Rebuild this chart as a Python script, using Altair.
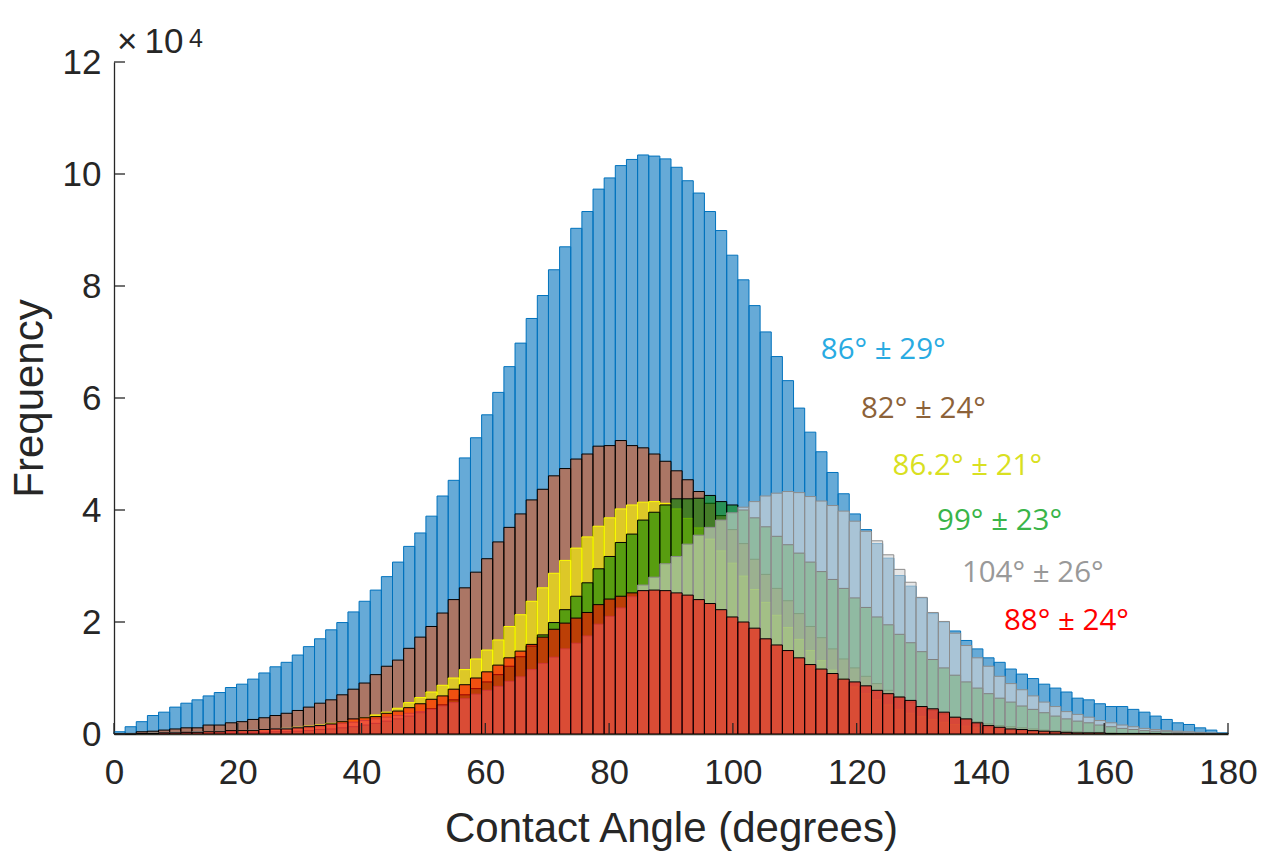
import altair as alt
import pandas as pd

# ---------------- data (frequencies in units of 10^4, 100 bins of 1.8 deg) ----------------
BIN_WIDTH = 1.8

blue = [0.04,0.13,0.22,0.33,0.39,0.48,0.55,0.61,0.68,0.74,
        0.83,0.89,0.98,1.09,1.20,1.28,1.41,1.56,1.70,1.86,
        1.99,2.18,2.37,2.57,2.81,3.07,3.35,3.59,3.89,4.25,
        4.53,4.93,5.29,5.70,6.10,6.56,6.98,7.42,7.83,8.29,
        8.70,9.03,9.33,9.73,9.93,10.15,10.26,10.34,10.32,10.27,
        10.12,9.88,9.66,9.33,8.99,8.55,8.11,7.65,7.18,6.74,
        6.31,5.82,5.39,5.04,4.67,4.29,3.93,3.65,3.40,3.14,
        2.83,2.64,2.43,2.15,2.00,1.84,1.67,1.52,1.36,1.28,
        1.16,1.07,0.99,0.89,0.82,0.75,0.64,0.61,0.54,0.49,
        0.49,0.44,0.39,0.32,0.26,0.20,0.17,0.11,0.07,0.02]

brown = [0.00,0.01,0.04,0.05,0.07,0.09,0.11,0.11,0.16,0.16,
         0.20,0.22,0.26,0.29,0.33,0.37,0.42,0.48,0.55,0.61,
         0.70,0.80,0.91,1.06,1.21,1.32,1.53,1.73,1.92,2.16,
         2.40,2.61,2.89,3.13,3.43,3.69,3.93,4.18,4.37,4.61,
         4.74,4.91,5.00,5.14,5.15,5.24,5.15,5.11,5.00,4.87,
         4.70,4.54,4.33,4.12,3.90,3.65,3.40,3.12,2.85,2.60,
         2.38,2.15,1.92,1.72,1.52,1.34,1.18,1.03,0.90,0.78,
         0.67,0.57,0.49,0.42,0.36,0.30,0.26,0.22,0.18,0.15,
         0.13,0.11,0.09,0.07,0.06,0.05,0.04,0.03,0.03,0.02,
         0.01,0.01,0.01,0.01,0.01,0.01,0.00,0.00,0.00,0.00]

yellow = [0.00,0.00,0.00,0.01,0.01,0.01,0.02,0.02,0.03,0.03,
          0.04,0.05,0.06,0.07,0.08,0.10,0.12,0.14,0.16,0.19,
          0.22,0.25,0.29,0.34,0.39,0.46,0.56,0.65,0.75,0.87,
          1.00,1.15,1.34,1.50,1.68,1.92,2.13,2.37,2.61,2.87,
          3.10,3.32,3.52,3.71,3.86,4.02,4.09,4.14,4.15,4.12,
          4.02,3.85,3.68,3.48,3.27,3.05,2.82,2.58,2.35,2.12,
          1.90,1.69,1.49,1.31,1.14,0.98,0.84,0.72,0.61,0.52,
          0.44,0.37,0.31,0.26,0.21,0.17,0.14,0.11,0.09,0.07,
          0.05,0.04,0.03,0.02,0.02,0.01,0.01,0.01,0.01,0.01,
          0.00,0.00,0.00,0.00,0.00,0.00,0.00,0.00,0.00,0.00]

green = [0.00,0.00,0.00,0.00,0.00,0.01,0.01,0.01,0.01,0.02,
         0.02,0.02,0.03,0.03,0.04,0.04,0.05,0.06,0.08,0.09,
         0.11,0.13,0.16,0.19,0.23,0.27,0.32,0.38,0.45,0.52,
         0.61,0.70,0.81,0.93,1.06,1.21,1.38,1.57,1.77,1.99,
         2.22,2.46,2.70,2.95,3.17,3.42,3.57,3.82,3.96,4.09,
         4.20,4.20,4.21,4.26,4.15,4.09,4.00,3.86,3.70,3.53,
         3.38,3.23,3.07,2.90,2.76,2.60,2.43,2.26,2.09,1.95,
         1.78,1.63,1.47,1.33,1.18,1.05,0.93,0.82,0.72,0.64,
         0.57,0.50,0.44,0.38,0.32,0.27,0.23,0.20,0.16,0.13,
         0.10,0.08,0.06,0.05,0.04,0.03,0.02,0.02,0.01,0.01]

gray = [0.00,0.01,0.01,0.02,0.02,0.03,0.03,0.04,0.04,0.05,
        0.05,0.06,0.07,0.08,0.09,0.10,0.11,0.13,0.15,0.17,
        0.19,0.21,0.24,0.27,0.30,0.33,0.37,0.40,0.44,0.50,
        0.56,0.63,0.71,0.78,0.85,0.94,1.02,1.15,1.26,1.37,
        1.52,1.62,1.75,1.96,2.10,2.25,2.45,2.66,2.80,3.04,
        3.17,3.39,3.55,3.69,3.82,3.95,4.05,4.15,4.25,4.30,
        4.33,4.31,4.24,4.16,4.08,3.98,3.80,3.62,3.45,3.20,
        2.94,2.71,2.44,2.17,2.01,1.80,1.58,1.36,1.21,1.03,
        0.90,0.79,0.68,0.57,0.49,0.40,0.35,0.30,0.24,0.20,
        0.16,0.13,0.10,0.08,0.06,0.05,0.04,0.03,0.02,0.01]

red = [0.00,0.00,0.01,0.01,0.02,0.02,0.03,0.03,0.04,0.04,
       0.06,0.06,0.06,0.08,0.09,0.09,0.11,0.13,0.15,0.18,
       0.22,0.27,0.29,0.31,0.37,0.41,0.47,0.54,0.62,0.68,
       0.80,0.88,1.00,1.11,1.23,1.36,1.48,1.60,1.73,1.87,
       1.98,2.07,2.17,2.31,2.41,2.46,2.52,2.56,2.57,2.56,
       2.52,2.48,2.40,2.33,2.22,2.09,2.00,1.89,1.70,1.59,
       1.49,1.36,1.24,1.16,1.08,0.98,0.93,0.86,0.78,0.72,
       0.66,0.60,0.49,0.45,0.39,0.30,0.27,0.20,0.15,0.12,
       0.09,0.08,0.06,0.05,0.04,0.03,0.02,0.02,0.02,0.01,
       0.01,0.01,0.01,0.01,0.00,0.00,0.00,0.00,0.00,0.00]

x_ticks = [0, 20, 40, 60, 80, 100, 120, 140, 160, 180]
y_ticks = [0, 2, 4, 6, 8, 10, 12]

labels = ["86° ± 29°", "82° ± 24°", "86.2° ± 21°", "99° ± 23°", "104° ± 26°", "88° ± 24°"]
label_x = [114.2, 120.7, 125.8, 133.0, 137.0, 143.8]
label_y = [6.85, 5.81, 4.78, 3.80, 2.88, 2.02]
label_colors = ["#29ABE2", "#8C6239", "#D9E021", "#39B54A", "#999999", "#FF0000"]

# draw order, face colour, edge colour
series = [
    (blue, "#0072BD", "#0072BD"),
    (brown, "#D95319", "#000000"),
    (yellow, "#FFFF00", "#FFFF00"),
    (green, "#008000", "#000000"),
    (gray, "#D5D5D5", "#8C8C8C"),
    (red, "#FF0000", "#000000"),
]

# ---------------- chart ----------------
W, H = 1114, 672
AXC = "#262626"
xscale = alt.Scale(domain=[0, 180], nice=False, zero=False)
yscale = alt.Scale(domain=[0, 12], nice=False)

xaxis = alt.Axis(values=x_ticks, title="Contact Angle (degrees)", ticks=False, grid=False,
                 labelPadding=21, labelFlush=False, labelOverlap=False,
                 titleX=W / 2, titleY=107, titleBaseline="alphabetic", titleAlign="center")
yaxis = alt.Axis(values=y_ticks, title="Frequency", ticks=False, grid=False,
                 labelPadding=13, labelFlush=False, labelOverlap=False,
                 titleX=-72, titleY=H / 2, titleAngle=270, titleBaseline="alphabetic",
                 titleAlign="center")

layers = []
for vals, fill, edge in series:
    df = pd.DataFrame({
        "start": [i * BIN_WIDTH for i in range(len(vals))],
        "end": [(i + 1) * BIN_WIDTH for i in range(len(vals))],
        "value": vals,
    })
    layers.append(
        alt.Chart(df).mark_rect(fill=fill, fillOpacity=0.6, stroke=edge,
                                strokeWidth=1, strokeOpacity=1).encode(
            x=alt.X("start:Q", scale=xscale, axis=xaxis),
            x2="end:Q",
            y=alt.Y("value:Q", scale=yscale, axis=yaxis),
            y2=alt.datum(0),
        )
    )

# inward ticks (MATLAB style)
ytick_layer = alt.Chart(pd.DataFrame({"v": y_ticks})).mark_rule(color=AXC, strokeWidth=1.3).encode(
    y=alt.Y("v:Q", scale=yscale, axis=yaxis), x=alt.value(0), x2=alt.value(11))
xtick_layer = alt.Chart(pd.DataFrame({"v": x_ticks})).mark_rule(color=AXC, strokeWidth=1.3).encode(
    x=alt.X("v:Q", scale=xscale, axis=xaxis), y=alt.value(H), y2=alt.value(H - 11))

label_df = pd.DataFrame({"label": labels, "lx": label_x, "ly": label_y})
text_layer = alt.Chart(label_df).mark_text(align="left", baseline="middle", font="Open Sans",
                                           fontSize=29.5).encode(
    x=alt.X("lx:Q", scale=xscale, axis=xaxis),
    y=alt.Y("ly:Q", scale=yscale, axis=yaxis),
    text="label:N",
    color=alt.Color("label:N", scale=alt.Scale(domain=labels, range=label_colors), legend=None),
)

exp_df = pd.DataFrame({"t": ["×\u200910"], "x": [0], "y": [12]})
exp_base = alt.Chart(exp_df).mark_text(align="left", baseline="alphabetic", font="Liberation Sans",
                                       fontSize=35, color=AXC, dx=3, dy=-9).encode(
    x=alt.X("x:Q", scale=xscale, axis=xaxis), y=alt.Y("y:Q", scale=yscale, axis=yaxis), text="t:N")
exp_df2 = pd.DataFrame({"t": ["4"], "x": [0], "y": [12]})
exp_sup = alt.Chart(exp_df2).mark_text(align="left", baseline="alphabetic", font="Liberation Sans",
                                       fontSize=25, color=AXC, dx=75, dy=-15).encode(
    x=alt.X("x:Q", scale=xscale, axis=xaxis), y=alt.Y("y:Q", scale=yscale, axis=yaxis), text="t:N")

chart = alt.layer(*layers, ytick_layer, xtick_layer, text_layer, exp_base, exp_sup).properties(
    width=W, height=H,
    autosize=alt.AutoSizeParams(type="none"),
    padding={"left": 114, "top": 62, "right": 46, "bottom": 117},
).configure_view(stroke=None).configure_axis(
    domainColor=AXC, domainWidth=1.3, labelColor=AXC, titleColor=AXC,
    labelFont="Liberation Sans", titleFont="Liberation Sans",
    labelFontSize=35, titleFontSize=42, titleFontWeight="normal",
)

chart.save("out.html", embed_options={"renderer": "svg", "actions": False})
